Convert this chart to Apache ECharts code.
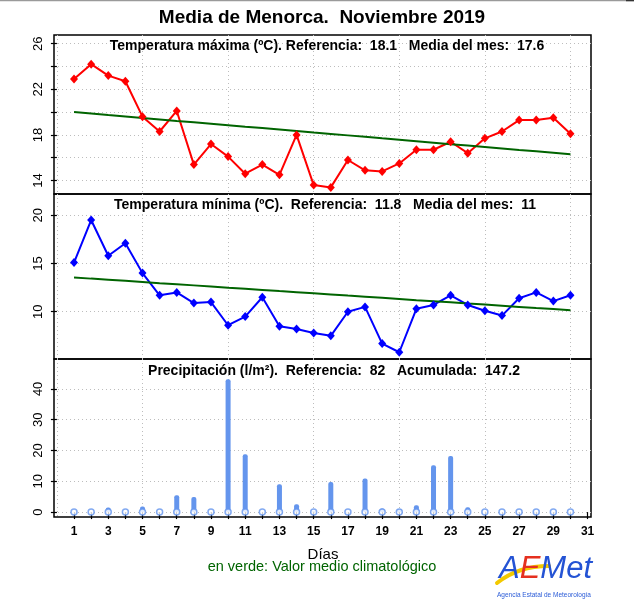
<!DOCTYPE html>
<html>
<head>
<meta charset="utf-8">
<title>Media de Menorca. Noviembre 2019</title>
<script src="https://cdn.jsdelivr.net/npm/echarts@6/dist/echarts.min.js"></script>
<style>
	html, body { margin: 0; padding: 0; background: #fff; }
	#grafico { width: 634px; height: 616px; }
</style>
</head>
<body>
<div id="grafico"></div>
<script type="text/javascript">
	// datos
	var dias = [1, 2, 3, 4, 5, 6, 7, 8, 9, 10, 11, 12, 13, 14, 15, 16, 17, 18, 19, 20, 21, 22, 23, 24, 25, 26, 27, 28, 29, 30];
	var tmax = [22.9, 24.2, 23.2, 22.7, 19.6, 18.3, 20.1, 15.4, 17.2, 16.1, 14.6, 15.4, 14.5, 18.0, 13.6, 13.4, 15.8, 14.9, 14.8, 15.5, 16.7, 16.7, 17.4, 16.4, 17.7, 18.3, 19.3, 19.3, 19.5, 18.1];
	var tmaxClima = [20.00, 19.87, 19.74, 19.62, 19.49, 19.36, 19.23, 19.11, 18.98, 18.85, 18.72, 18.60, 18.47, 18.34, 18.21, 18.09, 17.96, 17.83, 17.70, 17.58, 17.45, 17.32, 17.19, 17.07, 16.94, 16.81, 16.68, 16.56, 16.43, 16.30];
	var tmin = [15.1, 19.5, 15.8, 17.1, 14.0, 11.7, 12.0, 10.9, 11.0, 8.6, 9.5, 11.5, 8.5, 8.2, 7.8, 7.5, 10.0, 10.5, 6.7, 5.8, 10.3, 10.7, 11.7, 10.7, 10.1, 9.6, 11.4, 12.0, 11.1, 11.7];
	var tminClima = [13.55, 13.43, 13.32, 13.20, 13.08, 12.96, 12.85, 12.73, 12.61, 12.49, 12.38, 12.26, 12.14, 12.03, 11.91, 11.79, 11.67, 11.56, 11.44, 11.32, 11.20, 11.09, 10.97, 10.85, 10.74, 10.62, 10.50, 10.38, 10.27, 10.15];
	var precip = [0, 0, 1.5, 0, 1.8, 0, 5.5, 4.9, 0, 43.1, 18.8, 0, 9.0, 2.5, 0.2, 9.8, 0, 10.9, 1.2, 0.9, 2.2, 15.2, 18.2, 1.6, 0, 0, 0, 0, 0, 0];

	var ticksDias = [1, 2, 3, 4, 5, 6, 7, 8, 9, 10, 11, 12, 13, 14, 15, 16, 17, 18, 19, 20, 21, 22, 23, 24, 25, 26, 27, 28, 29, 30, 31];
	var etiquetasDias = [1, 3, 5, 7, 9, 11, 13, 15, 17, 19, 21, 23, 25, 27, 29, 31];
	var rejillaDias = [0, 5, 10, 15, 20, 25, 30];
	var ticksTmax = [14, 16, 18, 20, 22, 24, 26];
	var etiquetasTmax = [14, 18, 22, 26];
	var ticksTmin = [10, 15, 20];
	var ticksPrec = [0, 10, 20, 30, 40];

	var fuente = '"Liberation Sans", Arial, Helvetica, sans-serif';
	var rejilla = { show: true, lineStyle: { color: '#bdbdbd', type: [1, 3], width: 1 } };

	function pares(valores) {
		return dias.map(function (d, i) { return [d, valores[i]]; });
	}

	function ejeXOculto(g) {
		return {
			gridIndex: g, type: 'value', min: -0.17, max: 31.2,
			axisLine: { show: false },
			axisTick: { show: false, customValues: rejillaDias },
			axisLabel: { show: false },
			splitLine: rejilla
		};
	}

	function ejeY(g, min, max, ticks, etiquetas) {
		return {
			gridIndex: g, type: 'value', min: min, max: max,
			axisLine: { show: false },
			axisTick: { show: true, inside: false, length: 6, customValues: ticks, lineStyle: { color: '#000', width: 1.2 } },
			axisLabel: { customValues: etiquetas, rotate: 90, margin: 9, fontSize: 13, color: '#000', fontFamily: fuente },
			splitLine: rejilla
		};
	}

	function texto(x, y, t, size, weight, color) {
		return {
			type: 'text', x: x, y: y, z: 100,
			style: {
				text: t, fill: color || '#000',
				font: (weight || 'normal') + ' ' + size + 'px ' + fuente,
				align: 'center', verticalAlign: 'middle',
				textAlign: 'center', textVerticalAlign: 'middle'
			}
		};
	}

	var dom = document.getElementById('grafico');
	var myChart = echarts.init(dom, null, { renderer: 'canvas' });

	var option = {
		animation: false,
		backgroundColor: '#fff',
		grid: [
			{ left: 54, right: 43, top: 35, height: 159, show: true, borderColor: '#000', borderWidth: 1.5 },
			{ left: 54, right: 43, top: 194, height: 165, show: true, borderColor: '#000', borderWidth: 1.5 },
			{ left: 54, right: 43, top: 359, height: 158, show: true, borderColor: '#000', borderWidth: 1.5 }
		],
		xAxis: [
			ejeXOculto(0),
			ejeXOculto(1),
			{
				gridIndex: 2, type: 'value', min: -0.17, max: 31.2, position: 'bottom',
				axisLine: { show: false },
				axisTick: { show: true, length: 7, customValues: ticksDias, lineStyle: { color: '#000', width: 1.2 } },
				axisLabel: { customValues: etiquetasDias, fontSize: 12, fontWeight: 'bold', color: '#000', margin: 9, fontFamily: fuente },
				splitLine: { show: false }
			},
			ejeXOculto(2)
		],
		yAxis: [
			ejeY(0, 12.82, 26.76, ticksTmax, etiquetasTmax),
			ejeY(1, 5.1, 22.2, ticksTmin, ticksTmin),
			ejeY(2, -1.6, 49.7, ticksPrec, ticksPrec)
		],
		series: [
			{
				name: 'Temperatura máxima', type: 'line', xAxisIndex: 0, yAxisIndex: 0,
				data: pares(tmax), symbol: 'diamond', symbolSize: [8, 9],
				itemStyle: { color: '#ff0000' }, lineStyle: { color: '#ff0000', width: 2 }
			},
			{
				name: 'Máxima climatológica', type: 'line', xAxisIndex: 0, yAxisIndex: 0,
				data: pares(tmaxClima), symbol: 'none',
				lineStyle: { color: '#006400', width: 2 }
			},
			{
				name: 'Temperatura mínima', type: 'line', xAxisIndex: 1, yAxisIndex: 1,
				data: pares(tmin), symbol: 'diamond', symbolSize: [8, 9],
				itemStyle: { color: '#0000ff' }, lineStyle: { color: '#0000ff', width: 2 }
			},
			{
				name: 'Mínima climatológica', type: 'line', xAxisIndex: 1, yAxisIndex: 1,
				data: pares(tminClima), symbol: 'none',
				lineStyle: { color: '#006400', width: 2 }
			},
			{
				name: 'Precipitación', type: 'bar', xAxisIndex: 2, yAxisIndex: 2,
				data: pares(precip), barWidth: 5,
				itemStyle: { color: '#6495ed', borderRadius: 2 }
			},
			{
				name: 'Precipitación cero', type: 'scatter', xAxisIndex: 2, yAxisIndex: 2,
				data: dias.map(function (d) { return [d, 0]; }),
				symbol: 'circle', symbolSize: 6, z: 5,
				itemStyle: { color: '#fff', borderColor: '#6495ed', borderWidth: 1.5 }
			}
		],
		graphic: [
			{ type: 'line', shape: { x1: 0, y1: 0.5, x2: 634, y2: 0.5 }, style: { stroke: '#9a9a9a', lineWidth: 1.5 } },
			{ type: 'line', shape: { x1: 626, y1: 0.5, x2: 634, y2: 0.5 }, style: { stroke: '#333', lineWidth: 1.5 } },
			texto(322, 18, 'Media de Menorca.  Noviembre 2019', 19, 'bold'),
			texto(327, 46, 'Temperatura máxima (ºC). Referencia:  18.1   Media del mes:  17.6', 14, 'bold'),
			texto(325, 205, 'Temperatura mínima (ºC).  Referencia:  11.8   Media del mes:  11', 14, 'bold'),
			texto(334, 371, 'Precipitación (l/m²).  Referencia:  82   Acumulada:  147.2', 14, 'bold'),
			texto(323, 555, 'Días', 15, 'normal'),
			texto(322, 567, 'en verde: Valor medio climatológico', 14.5, 'normal', '#006400'),
			// logo
			{
				type: 'bezierCurve', z: 99,
				shape: { x1: 497, y1: 583, cpx1: 512, cpy1: 571, cpx2: 530, cpy2: 566, x2: 549, y2: 566 },
				style: { stroke: '#f3c900', lineWidth: 4, lineCap: 'round', fill: null }
			},
			{
				type: 'text', x: 499, y: 569, z: 100,
				style: {
					text: '{a|A}{e|E}{a|Met}',
					font: 'italic 31px ' + fuente,
					verticalAlign: 'middle', textVerticalAlign: 'middle',
					rich: {
						a: { fill: '#2453d4', font: 'italic 31px ' + fuente },
						e: { fill: '#e5301f', font: 'italic 31px ' + fuente }
					}
				}
			},
			texto(544, 595, 'Agencia Estatal de Meteorología', 6.5, 'normal', '#2a5bd7')
		]
	};

	if (option && typeof option === "object") {
		myChart.setOption(option, true);
	}
</script>
</body>
</html>
